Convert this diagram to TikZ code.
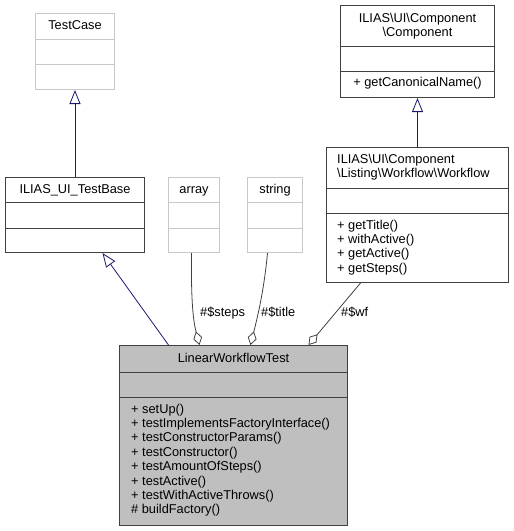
\documentclass[tikz,border=0pt]{standalone}
\usepackage{fontspec}
\setmainfont{Liberation Sans}
\usetikzlibrary{arrows.meta, positioning}

\definecolor{boxgrey}{HTML}{BFBFBF}
\definecolor{lightline}{HTML}{C8C8C8}
\definecolor{darkline}{HTML}{404040}
\definecolor{navyline}{HTML}{191970}

\begin{document}
\begin{tikzpicture}[x=1pt, y=-1pt, font=\fontsize{12.8}{14.5}\selectfont]
\tikzstyle{greyclass} = [rectangle, draw=lightline, line width=1pt, anchor=north west, inner sep=0pt]
\tikzstyle{blackclass} = [rectangle, draw=darkline, line width=1pt, anchor=north west, inner sep=0pt]
\tikzstyle{title} = [anchor=base, inner sep=0pt]
\tikzstyle{member} = [anchor=base west, inner sep=0pt]
\tikzstyle{inherit} = [navyline, line width=0.8pt, -{Triangle[open, length=14pt, width=11pt]}]
\tikzstyle{aggr} = [darkline, line width=0.8pt, -{Diamond[open, length=14pt, width=9pt]}]
\tikzstyle{lbl} = [anchor=base west, inner sep=0pt]

\useasboundingbox (0,0) rectangle (514,531);

% classes
\node[greyclass, minimum width=79pt, minimum height=76pt] (testcase) at (35,13) {};
\draw[lightline, line width=1pt] ([yshift=-26pt]testcase.north west) -- ([yshift=-26pt]testcase.north east);
\draw[lightline, line width=1pt] ([yshift=-51pt]testcase.north west) -- ([yshift=-51pt]testcase.north east);
\node[title] at ([yshift=-16pt]testcase.north) {TestCase};

\node[blackclass, minimum width=139pt, minimum height=75pt] (testbase) at (5,177) {};
\draw[darkline, line width=1pt] ([yshift=-25pt]testbase.north west) -- ([yshift=-25pt]testbase.north east);
\draw[darkline, line width=1pt] ([yshift=-51pt]testbase.north west) -- ([yshift=-51pt]testbase.north east);
\node[title] at ([yshift=-16pt]testbase.north) {ILIAS\_UI\_TestBase};

\node[greyclass, minimum width=51pt, minimum height=75pt] (array) at (168,177) {};
\draw[lightline, line width=1pt] ([yshift=-25pt]array.north west) -- ([yshift=-25pt]array.north east);
\draw[lightline, line width=1pt] ([yshift=-51pt]array.north west) -- ([yshift=-51pt]array.north east);
\node[title] at ([yshift=-16pt]array.north) {array};

\node[greyclass, minimum width=55pt, minimum height=75pt] (string) at (247,177) {};
\draw[lightline, line width=1pt] ([yshift=-25pt]string.north west) -- ([yshift=-25pt]string.north east);
\draw[lightline, line width=1pt] ([yshift=-51pt]string.north west) -- ([yshift=-51pt]string.north east);
\node[title] at ([yshift=-16pt]string.north) {string};

\node[blackclass, minimum width=154pt, minimum height=92pt] (component) at (340,5) {};
\draw[darkline, line width=1pt] ([yshift=-41pt]component.north west) -- ([yshift=-41pt]component.north east);
\draw[darkline, line width=1pt] ([yshift=-66pt]component.north west) -- ([yshift=-66pt]component.north east);
\node[title] at ([yshift=-17pt]component.north) {ILIAS\textbackslash UI\textbackslash Component};
\node[title] at ([yshift=-31pt]component.north) {\textbackslash Component};
\node[title] at ([yshift=-81pt]component.north) {+ getCanonicalName()};

\node[blackclass, minimum width=182pt, minimum height=135pt] (workflow) at (326,147) {};
\draw[darkline, line width=1pt] ([yshift=-41pt]workflow.north west) -- ([yshift=-41pt]workflow.north east);
\draw[darkline, line width=1pt] ([yshift=-66pt]workflow.north west) -- ([yshift=-66pt]workflow.north east);
\node[member] at (337,163) {ILIAS\textbackslash UI\textbackslash Component};
\node[member] at (337,177.5) {\textbackslash Listing\textbackslash Workflow\textbackslash Workflow};
\foreach \m [count=\i from 0] in {getTitle(), withActive(), getActive(), getSteps()}
  \node[member] at (337,229+14.4*\i) {+ \m};

\node[blackclass, fill=boxgrey, minimum width=228pt, minimum height=180pt] (lwt) at (119,345) {};
\draw[darkline, line width=1pt] ([yshift=-27pt]lwt.north west) -- ([yshift=-27pt]lwt.north east);
\draw[darkline, line width=1pt] ([yshift=-52pt]lwt.north west) -- ([yshift=-52pt]lwt.north east);
\node[title] at ([yshift=-17pt]lwt.north) {LinearWorkflowTest};
\foreach \m [count=\i from 0] in {+ setUp(), + testImplementsFactoryInterface(), + testConstructorParams(),
    + testConstructor(), + testAmountOfSteps(), + testActive(), + testWithActiveThrows(), \# buildFactory()}
  \node[member] at (131,413+14.4*\i) {\m};

% inheritance
\draw[inherit] (testbase.north) -- (testcase.south);
\draw[inherit] (workflow.north) -- (component.south);
\draw[inherit] ([xshift=-65pt]lwt.north) -- ([xshift=27.5pt]testbase.south);

% aggregation
\draw[aggr] ([xshift=-2.5pt]array.south) .. controls (191,300) and (193,320) .. ([xshift=-34pt]lwt.north);
\draw[aggr] ([xshift=-7.5pt]string.south) .. controls (264,290) and (258,315) .. ([xshift=17pt]lwt.north);
\draw[aggr] ([xshift=-57pt]workflow.south) -- ([xshift=75pt]lwt.north);
\node[lbl] (stepslbl) at (200,316) {\#\$steps};
\node[lbl] (titlelbl) at (261,316) {\#\$title};
\node[lbl] (wflbl) at (341,316) {\#\$wf};
\end{tikzpicture}
\end{document}
